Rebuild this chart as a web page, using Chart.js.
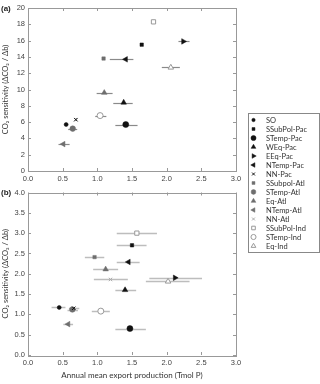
<!DOCTYPE html>
<html>
<head>
<meta charset="utf-8">
<script src="https://cdn.jsdelivr.net/npm/chart.js@4.4.1/dist/chart.umd.min.js"></script>
<style>
body{margin:0;background:#fff;width:320px;height:384px;overflow:hidden;position:relative;font-family:"Liberation Sans",Arial,sans-serif}
.panel{position:absolute;left:0;width:320px}
#wrapA{top:0;height:190px}
#wrapB{top:185px;height:199px}
.tag{position:absolute;left:1px;font-weight:bold;font-size:8px;color:#222;line-height:9px}
#legend{position:absolute;left:248px;top:113px;width:70px;height:138px;border:1px solid #888;background:#fff}
#legend canvas{position:absolute;left:0;top:0}
.lg{position:absolute;left:17px;font:7.5px Lato,sans-serif;color:#333;white-space:nowrap;line-height:9px}
</style>
</head>
<body>
<div class="panel" id="wrapA"><canvas id="chartA" width="320" height="190"></canvas></div>
<div class="panel" id="wrapB"><canvas id="chartB" width="320" height="199"></canvas></div>
<div class="tag" style="top:4px">(a)</div>
<div class="tag" style="top:188px">(b)</div>
<div id="legend"><canvas id="legendMarks" width="70" height="138"></canvas></div>
<script>
// Regions (one series each)
const regions = ["SO","SSubPol-Pac","STemp-Pac","WEq-Pac","EEq-Pac","NTemp-Pac","NN-Pac",
  "SSubpol-Atl","STemp-Atl","Eq-Atl","NTemp-Atl","NN-Atl","SSubPol-Ind","STemp-Ind","Eq-Ind"];

// Panel (a): export production, CO2 sensitivity, error bar ends
const exportA = [0.55,1.64,1.41,1.38,2.24,1.41,0.69,1.09,0.645,1.10,0.51,0.69,1.81,1.04,2.06];
const sensA   = [5.7,15.5,5.7,8.4,15.9,13.7,6.3,13.8,5.2,9.6,3.3,6.3,18.3,6.8,12.7];
const loA     = [null,null,1.26,1.23,2.17,1.18,null,null,0.58,0.99,0.44,null,null,0.97,1.93];
const hiA     = [null,null,1.58,1.51,2.33,1.52,null,null,0.71,1.22,0.60,null,null,1.13,2.19];

// Panel (b)
const exportB = [0.45,1.50,1.47,1.40,2.12,1.45,0.66,0.96,0.64,1.12,0.58,1.19,1.57,1.05,2.02];
const sensB   = [1.17,2.70,0.65,1.60,1.90,2.29,1.15,2.41,1.12,2.11,0.76,1.86,3.00,1.08,1.81];
const loB     = [0.34,1.28,1.26,1.26,1.75,1.28,0.59,0.82,0.57,0.94,0.51,0.95,1.28,0.92,1.70];
const hiB     = [0.54,1.71,1.70,1.56,2.51,1.61,0.74,1.10,0.72,1.30,0.65,1.44,1.86,1.18,2.33];

// Tick labels
const xTickValues = [0,0.5,1,1.5,2,2.5,3];
const yTicksA = [0,2,4,6,8,10,12,14,16,18,20];
const yTicksB = [0,0.5,1,1.5,2,2.5,3,3.5,4];

// Marker styles
const PAC = "#111", ATL = "#6e6e6e", IND = "#999";
const styles = ["circle","rect","circle","triangle","triangle","triangle","crossRot",
  "rect","circle","triangle","triangle","crossRot","rect","circle","triangle"];
const rots   = [0,0,0,0,90,-90,0,0,0,0,-90,0,0,0,0];
const radii  = [2,2.4,3,3.2,3.2,3.2,2.4,2.4,2.8,3.2,3.2,2.4,3,3,3.2];
const strokes = [PAC,PAC,PAC,PAC,PAC,PAC,PAC,ATL,ATL,ATL,ATL,"#aaa",IND,IND,IND];
const fills   = [PAC,PAC,PAC,PAC,PAC,PAC,PAC,ATL,ATL,ATL,ATL,"#aaa","#fff","#fff","#fff"];
const widths  = [0.5,0.5,0.5,0.5,0.5,0.5,1,0.5,0.5,0.5,0.5,1,1,1,1];

// Box round the plot + inward tick marks on all sides
const framePlugin = {
  id: "frame",
  afterDraw(chart) {
    const {ctx, chartArea: a, scales: {x, y}} = chart;
    ctx.save();
    ctx.strokeStyle = "#999";
    ctx.lineWidth = 1;
    ctx.strokeRect(Math.round(a.left) + 0.5, Math.round(a.top) + 0.5,
      Math.round(a.right - a.left), Math.round(a.bottom - a.top));
    ctx.beginPath();
    x.ticks.forEach(t => {
      const px = Math.round(x.getPixelForValue(t.value)) + 0.5;
      ctx.moveTo(px, a.bottom); ctx.lineTo(px, a.bottom - 3);
      ctx.moveTo(px, a.top); ctx.lineTo(px, a.top + 3);
    });
    y.ticks.forEach(t => {
      const py = Math.round(y.getPixelForValue(t.value)) + 0.5;
      ctx.moveTo(a.left, py); ctx.lineTo(a.left + 3, py);
      ctx.moveTo(a.right, py); ctx.lineTo(a.right - 3, py);
    });
    ctx.stroke();
    ctx.restore();
  }
};

// Horizontal error bars, drawn under the markers
function makeErrPlugin(lo, hi, ys, color, w) {
  return {
    id: "errbars",
    beforeDatasetsDraw(chart) {
      const {ctx, scales: {x, y}} = chart;
      ctx.save();
      ctx.strokeStyle = color;
      ctx.lineWidth = w;
      lo.forEach((l, i) => {
        if (l == null) return;
        const py = Math.round(y.getPixelForValue(ys[i])) + 0.5;
        ctx.beginPath();
        ctx.moveTo(x.getPixelForValue(l), py);
        ctx.lineTo(x.getPixelForValue(hi[i]), py);
        ctx.stroke();
      });
      ctx.restore();
    }
  };
}

function makeSets(xs, ys) {
  return regions.map((r, i) => ({
    label: r,
    data: [{x: xs[i], y: ys[i]}],
    showLine: false,
    pointStyle: styles[i],
    pointRotation: rots[i],
    pointRadius: radii[i],
    pointBackgroundColor: fills[i],
    pointBorderColor: strokes[i],
    pointBorderWidth: widths[i]
  }));
}

const tickFont = {size: 7.5, family: "Liberation Sans"};
const titleFont = {size: 8, family: "Lato"};

function makeChart(id, xs, ys, lo, hi, yTicks, yMax, yFmt, padTop, xHeight, showXTitle, errColor, errW) {
  return new Chart(document.getElementById(id), {
    type: "scatter",
    data: {datasets: makeSets(xs, ys)},
    options: {
      responsive: false,
      animation: false,
      events: [],
      layout: {padding: {top: padTop, right: 84, bottom: 0, left: 0}},
      plugins: {legend: {display: false}, tooltip: {enabled: false}},
      scales: {
        x: {
          type: "linear", min: 0, max: 3,
          afterBuildTicks: s => { s.ticks = xTickValues.map(v => ({value: v})); },
          afterFit: s => { s.height = xHeight; },
          grid: {display: false, drawTicks: false, tickLength: 0}, border: {display: false},
          ticks: {font: tickFont, color: "#444", padding: 3, maxRotation: 0, callback: v => v.toFixed(1)},
          title: {display: showXTitle, text: "Annual mean export production (Tmol P)",
            font: titleFont, color: "#333", padding: {top: 4, bottom: 4}}
        },
        y: {
          min: 0, max: yMax,
          afterBuildTicks: s => { s.ticks = yTicks.map(v => ({value: v})); },
          afterFit: s => { s.width = 28; },
          grid: {display: false, drawTicks: false, tickLength: 0}, border: {display: false},
          ticks: {font: tickFont, color: "#444", padding: 3, callback: yFmt},
          title: {display: true, text: "CO₂ sensitivity (ΔCO₂ / Δb)",
            font: {size: 7.5, family: "Lato"}, color: "#333", padding: {top: 1.5, bottom: 0}}
        }
      }
    },
    plugins: [framePlugin, makeErrPlugin(lo, hi, ys, errColor, errW)]
  });
}

makeChart("chartA", exportA, sensA, loA, hiA, yTicksA, 20, v => String(v), 8, 19, false, "#8a8a8a", 1.2);
makeChart("chartB", exportB, sensB, loB, hiB, yTicksB, 4, v => v.toFixed(1), 7, 29, true, "#bdbdbd", 1.5);

// Legend: markers on a small canvas, names as text
const legend = document.getElementById("legend");
const lctx = document.getElementById("legendMarks").getContext("2d");
regions.forEach((r, i) => {
  const cy = 6 + 9 * i;
  const d = document.createElement("div");
  d.className = "lg";
  d.style.top = (cy - 4.5) + "px";
  d.textContent = r;
  legend.appendChild(d);
  lctx.fillStyle = fills[i];
  lctx.strokeStyle = strokes[i];
  lctx.lineWidth = widths[i];
  const opts = {pointStyle: styles[i], rotation: rots[i], radius: radii[i] * 0.85, borderWidth: widths[i]};
  if (Chart.helpers && Chart.helpers.drawPoint) Chart.helpers.drawPoint(lctx, opts, 4.5, cy);
});
</script>
</body>
</html>
